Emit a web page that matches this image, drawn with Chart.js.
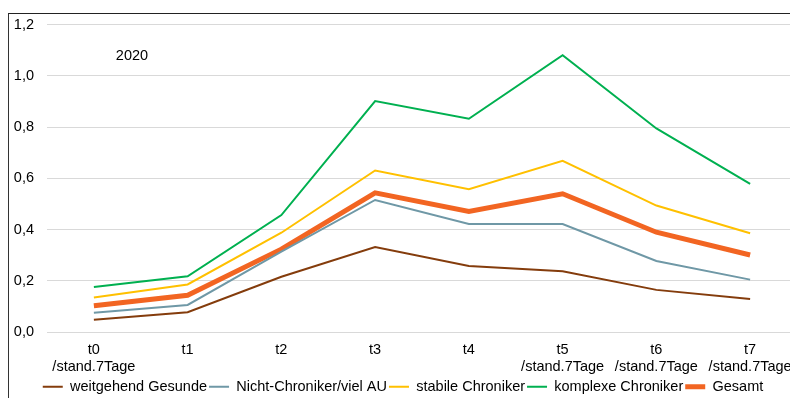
<!DOCTYPE html>
<html>
<head>
<meta charset="utf-8">
<script src="https://cdn.jsdelivr.net/npm/chart.js@4/dist/chart.umd.min.js"></script>
<style>
    html, body { margin: 0; padding: 0; background: #fff; overflow: hidden; width: 790px; height: 398px; }
    #frame { position: absolute; left: 8px; top: 13px; width: 820px; height: 400px;
             border-left: 1px solid #333; border-top: 1px solid #222; }
    #wrap { position: absolute; left: 9px; top: 3px; width: 800px; height: 401px; }
</style>
</head>
<body>
<div id="frame"></div>
<div id="wrap"><canvas id="chart"></canvas></div>
<script>
// ### DATA ###
const categories = [
    ['t0', '/stand.7Tage'], 't1', 't2', 't3', 't4',
    ['t5', '/stand.7Tage'], ['t6', '/stand.7Tage'], ['t7', '/stand.7Tage']
];
const gesunde      = [0.048, 0.078, 0.216, 0.332, 0.258, 0.238, 0.165, 0.129];
const nichtChron   = [0.076, 0.106, 0.314, 0.516, 0.422, 0.422, 0.278, 0.205];
const stabileChron = [0.135, 0.186, 0.388, 0.631, 0.558, 0.669, 0.494, 0.386];
const komplexChron = [0.176, 0.218, 0.457, 0.902, 0.833, 1.081, 0.795, 0.579];
const gesamt       = [0.103, 0.144, 0.324, 0.544, 0.471, 0.540, 0.390, 0.301];
const yearLabel = '2020';

const FONT = { family: 'Liberation Sans, Arial, sans-serif', size: 14.5 };

function series(label, data, color, width) {
    return {
        label: label,
        data: data,
        borderColor: color,
        backgroundColor: color,
        borderWidth: width,
        pointRadius: 0,
        pointHoverRadius: 0,
        pointStyle: 'line',
        tension: 0,
        fill: false
    };
}

// "2020" label inside the plot
const yearPlugin = {
    id: 'yearLabel',
    afterDraw(chart) {
        const ctx = chart.ctx;
        ctx.save();
        ctx.font = '14.5px ' + FONT.family;
        ctx.fillStyle = '#000';
        ctx.textAlign = 'center';
        ctx.textBaseline = 'middle';
        ctx.fillText(yearLabel, 123, 53);
        ctx.restore();
    }
};

new Chart(document.getElementById('chart'), {
    type: 'line',
    data: {
        labels: categories,
        datasets: [
            series('weitgehend Gesunde', gesunde, '#843C0C', 2),
            series('Nicht-Chroniker/viel AU', nichtChron, '#6F98A6', 2),
            series('stabile Chroniker', stabileChron, '#FFC000', 2),
            series('komplexe Chroniker', komplexChron, '#00B050', 2),
            series('Gesamt', gesamt, '#F26522', 5)
        ]
    },
    options: {
        responsive: true,
        maintainAspectRatio: false,
        animation: false,
        layout: { padding: { top: 0, right: 12, left: 0, bottom: 0 } },
        plugins: {
            legend: {
                position: 'bottom',
                labels: {
                    usePointStyle: true,
                    pointStyleWidth: 20,
                    padding: 2,
                    color: '#000',
                    font: FONT
                }
            },
            tooltip: { enabled: false }
        },
        scales: {
            x: {
                offset: true,
                grid: { display: false },
                border: { display: false },
                ticks: {
                    color: '#000',
                    font: { family: FONT.family, size: FONT.size, lineHeight: 1.15 },
                    padding: 2,
                    maxRotation: 0,
                    autoSkip: false
                }
            },
            y: {
                min: 0,
                max: 1.2,
                afterFit: s => { s.width = 38; },
                grid: { color: '#d9d9d9', lineWidth: 1, drawTicks: false },
                border: { display: false },
                ticks: {
                    stepSize: 0.2,
                    padding: 13,
                    color: '#000',
                    font: FONT,
                    callback: v => v.toFixed(1).replace('.', ',')
                }
            }
        }
    },
    plugins: [yearPlugin]
});
</script>
</body>
</html>
